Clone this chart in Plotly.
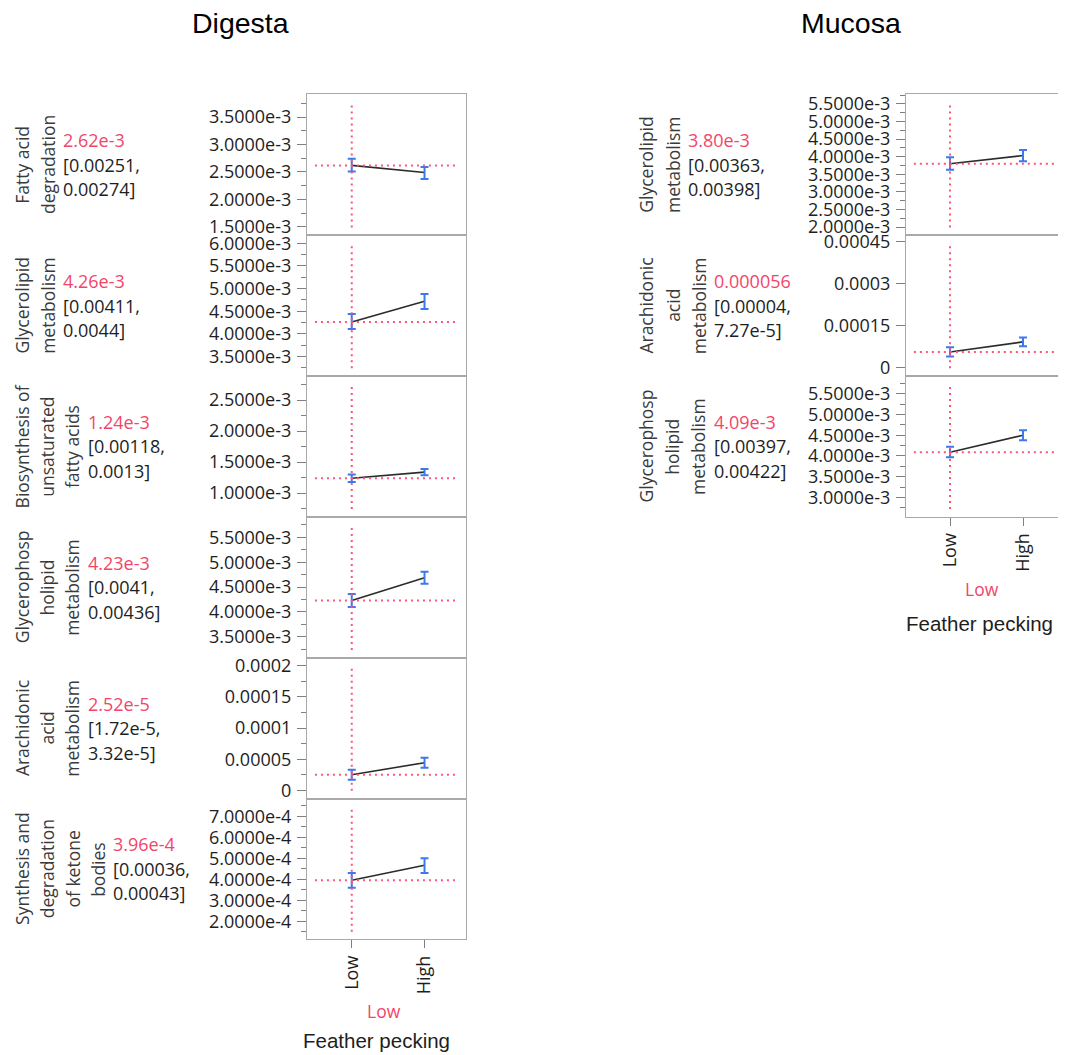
import plotly.graph_objects as go

# page / figure geometry (browser body has an 8px margin)
PAGE_W, PAGE_H = 1066, 1055
OFF = 8
W, H = PAGE_W - OFF, PAGE_H - OFF
YS, YB = 0.9925, 4.7   # empirical vertical correction of the captured page

# ---------------- data ----------------
levels = ["Low", "High"]
current_level = "Low"
x_title = "Feather pecking"
column_titles = ["Digesta", "Mucosa"]

# Digesta
digesta_labels = [
    ["Fatty acid", "degradation"],
    ["Glycerolipid", "metabolism"],
    ["Biosynthesis of", "unsaturated", "fatty acids"],
    ["Glycerophosp", "holipid", "metabolism"],
    ["Arachidonic", "acid", "metabolism"],
    ["Synthesis and", "degradation", "of ketone", "bodies"],
]
digesta_low_mean = [2.62e-3, 4.26e-3, 1.24e-3, 4.23e-3, 2.52e-5, 3.96e-4]
digesta_low_lo = [2.51e-3, 4.11e-3, 1.18e-3, 4.10e-3, 1.72e-5, 3.60e-4]
digesta_low_hi = [2.74e-3, 4.44e-3, 1.30e-3, 4.36e-3, 3.32e-5, 4.30e-4]
digesta_high_mean = [2.49e-3, 4.72e-3, 1.34e-3, 4.69e-3, 4.46e-5, 4.67e-4]
digesta_high_lo = [2.37e-3, 4.55e-3, 1.29e-3, 4.57e-3, 3.66e-5, 4.30e-4]
digesta_high_hi = [2.59e-3, 4.88e-3, 1.39e-3, 4.81e-3, 5.26e-5, 5.00e-4]
digesta_value_text = ["2.62e-3", "4.26e-3", "1.24e-3", "4.23e-3", "2.52e-5", "3.96e-4"]
digesta_ci_text = [
    ["[0.00251,", "0.00274]"],
    ["[0.00411,", "0.0044]"],
    ["[0.00118,", "0.0013]"],
    ["[0.0041,", "0.00436]"],
    ["[1.72e-5,", "3.32e-5]"],
    ["[0.00036,", "0.00043]"],
]
digesta_tickvals = [
    [1.5e-3, 2.0e-3, 2.5e-3, 3.0e-3, 3.5e-3],
    [3.5e-3, 4.0e-3, 4.5e-3, 5.0e-3, 5.5e-3, 6.0e-3],
    [1.0e-3, 1.5e-3, 2.0e-3, 2.5e-3],
    [3.5e-3, 4.0e-3, 4.5e-3, 5.0e-3, 5.5e-3],
    [0, 5e-5, 1e-4, 1.5e-4, 2e-4],
    [2e-4, 3e-4, 4e-4, 5e-4, 6e-4, 7e-4],
]
digesta_ticktext = [
    ["1.5000e-3", "2.0000e-3", "2.5000e-3", "3.0000e-3", "3.5000e-3"],
    ["3.5000e-3", "4.0000e-3", "4.5000e-3", "5.0000e-3", "5.5000e-3", "6.0000e-3"],
    ["1.0000e-3", "1.5000e-3", "2.0000e-3", "2.5000e-3"],
    ["3.5000e-3", "4.0000e-3", "4.5000e-3", "5.0000e-3", "5.5000e-3"],
    ["0", "0.00005", "0.0001", "0.00015", "0.0002"],
    ["2.0000e-4", "3.0000e-4", "4.0000e-4", "5.0000e-4", "6.0000e-4", "7.0000e-4"],
]
digesta_yrange = [
    [1.348e-3, 3.916e-3],
    [3.07e-3, 6.18e-3],
    [0.618e-3, 2.89e-3],
    [3.08e-3, 5.914e-3],
    [-1.28e-5, 2.128e-4],
    [1.14e-4, 7.85e-4],
]
digesta_minor = [0.25e-3, 0.25e-3, 0.25e-3, 0.25e-3, 2.5e-5, 5e-5]

# Mucosa
mucosa_labels = [
    ["Glycerolipid", "metabolism"],
    ["Arachidonic", "acid", "metabolism"],
    ["Glycerophosp", "holipid", "metabolism"],
]
mucosa_low_mean = [3.80e-3, 5.6e-5, 4.09e-3]
mucosa_low_lo = [3.63e-3, 4.0e-5, 3.97e-3]
mucosa_low_hi = [3.98e-3, 7.27e-5, 4.22e-3]
mucosa_high_mean = [4.03e-3, 9.2e-5, 4.50e-3]
mucosa_high_lo = [3.87e-3, 7.6e-5, 4.38e-3]
mucosa_high_hi = [4.19e-3, 1.08e-4, 4.62e-3]
mucosa_value_text = ["3.80e-3", "0.000056", "4.09e-3"]
mucosa_ci_text = [
    ["[0.00363,", "0.00398]"],
    ["[0.00004,", "7.27e-5]"],
    ["[0.00397,", "0.00422]"],
]
mucosa_tickvals = [
    [2.0e-3, 2.5e-3, 3.0e-3, 3.5e-3, 4.0e-3, 4.5e-3, 5.0e-3, 5.5e-3],
    [0, 1.5e-4, 3e-4, 4.5e-4],
    [3.0e-3, 3.5e-3, 4.0e-3, 4.5e-3, 5.0e-3, 5.5e-3],
]
mucosa_ticktext = [
    ["2.0000e-3", "2.5000e-3", "3.0000e-3", "3.5000e-3", "4.0000e-3", "4.5000e-3", "5.0000e-3", "5.5000e-3"],
    ["0", "0.00015", "0.0003", "0.00045"],
    ["3.0000e-3", "3.5000e-3", "4.0000e-3", "4.5000e-3", "5.0000e-3", "5.5000e-3"],
]
mucosa_yrange = [
    [1.77e-3, 5.77e-3],
    [-3.0e-5, 4.74e-4],
    [2.536e-3, 5.925e-3],
]
mucosa_minor = [0.25e-3, None, 0.25e-3]

# ---------------- styles / layout geometry ----------------
RED = "#f2456a"
RED_LINE = "#ff5577"
BLUE = "#3c78ee"
BOX = "#a9a9a9"
TICKC = "#808080"
TXT = "#1e1e1e"
LBL = "#3a3a3a"
FONT = "Open Sans"
TITLE_FONT = "Liberation Sans, Arial"

columns = [
    dict(title=column_titles[0], labels=digesta_labels, lm=digesta_low_mean, ll=digesta_low_lo,
         lh=digesta_low_hi, hm=digesta_high_mean, hl=digesta_high_lo, hh=digesta_high_hi,
         vt=digesta_value_text, ci=digesta_ci_text, tv=digesta_tickvals, tt=digesta_ticktext,
         yr=digesta_yrange, minor=digesta_minor, xr=[-0.615, 1.57],
         bx0=307, bx1=466, top=93, ph=141, lab0=22, lstep=25.3,
         title_x=240.5, low_x=383.5, ft_x=376, xt_gap=72, ft_gap=103),
    dict(title=column_titles[1], labels=mucosa_labels, lm=mucosa_low_mean, ll=mucosa_low_lo,
         lh=mucosa_low_hi, hm=mucosa_high_mean, hl=mucosa_high_lo, hh=mucosa_high_hi,
         vt=mucosa_value_text, ci=mucosa_ci_text, tv=mucosa_tickvals, tt=mucosa_ticktext,
         yr=mucosa_yrange, minor=mucosa_minor, xr=[-0.603, 1.548],
         bx0=906, bx1=1063, top=93, ph=141, lab0=646, lstep=26.3,
         title_x=851, low_x=982, ft_x=979, xt_gap=72, ft_gap=107),
]

fig = go.Figure()
layout = dict(width=W, height=H, margin=dict(l=0, r=0, t=0, b=0), autosize=False,
              paper_bgcolor="white", plot_bgcolor="white", showlegend=False)
annotations = []
shapes = []


def px(x):
    return min(max((x - OFF) / W, 0.0), 1.0)


def py(y, ymax=None):
    page_y = y / YS - YB
    if ymax is not None:
        page_y = min(page_y, ymax)
    return min(max(1 - (page_y - OFF) / H, 0.0), 1.0)


k = 0
for col in columns:
    n = len(col["labels"])
    for i in range(n):
        k += 1
        xa = "x" if k == 1 else f"x{k}"
        ya = "y" if k == 1 else f"y{k}"
        xname = "xaxis" if k == 1 else f"xaxis{k}"
        yname = "yaxis" if k == 1 else f"yaxis{k}"
        t = col["top"] + i * col["ph"]
        b = t + col["ph"]
        last = i == n - 1

        layout[xname] = dict(
            domain=[px(col["bx0"]), px(col["bx1"])], anchor=ya, range=col["xr"],
            showgrid=False, zeroline=False, showline=True, mirror=True,
            linecolor=BOX, linewidth=1.2,
            tickmode="array", tickvals=list(range(len(levels))), ticktext=levels,
            ticks="outside" if last else "", ticklen=8, tickcolor=TICKC, tickwidth=1.2,
            showticklabels=last, tickangle=-90,
            tickfont=dict(family=FONT, size=18, color=TXT),
        )
        ydict = dict(
            domain=[py(b), py(t)], anchor=xa, range=col["yr"][i],
            showgrid=False, zeroline=False, showline=True, mirror=True,
            linecolor=BOX, linewidth=1.2,
            tickmode="array", tickvals=col["tv"][i], ticktext=col["tt"][i],
            ticks="outside", ticklen=9, tickcolor=TICKC, tickwidth=1.2,
            tickfont=dict(family=FONT, size=18, color=TXT), ticklabelstandoff=2,
        )
        if col["minor"][i] is not None:
            ydict["minor"] = dict(dtick=col["minor"][i], tick0=0, ticks="outside",
                                  ticklen=5, tickcolor=TICKC, tickwidth=1.2, showgrid=False)
        layout[yname] = ydict

        lo_idx = levels.index(current_level)
        means = [col["lm"][i], col["hm"][i]]
        lows = [col["ll"][i], col["hl"][i]]
        highs = [col["lh"][i], col["hh"][i]]

        # reference lines at current setting
        shapes.append(dict(type="line", xref=f"{xa} domain", yref=ya, x0=0.05, x1=0.95,
                           y0=col["lm"][i], y1=col["lm"][i],
                           line=dict(color=RED_LINE, width=2, dash="2px,4px")))
        shapes.append(dict(type="line", xref=xa, yref=f"{ya} domain", x0=lo_idx, x1=lo_idx,
                           y0=0.055, y1=0.945,
                           line=dict(color=RED_LINE, width=2, dash="2px,4px")))

        fig.add_trace(go.Scatter(
            x=list(range(len(levels))), y=means, mode="lines", xaxis=xa, yaxis=ya,
            line=dict(color="#2b2b2b", width=1.6), hoverinfo="skip",
        ))
        fig.add_trace(go.Scatter(
            x=list(range(len(levels))), y=means, mode="markers", xaxis=xa, yaxis=ya,
            marker=dict(size=1, color="rgba(0,0,0,0)"),
            error_y=dict(type="data", symmetric=False,
                         array=[h - m for h, m in zip(highs, means)],
                         arrayminus=[m - l for m, l in zip(means, lows)],
                         color=BLUE, thickness=2, width=4),
            hoverinfo="skip",
        ))

        # rotated response label
        cy = (t + b) / 2
        nl = len(col["labels"][i])
        for j, line in enumerate(col["labels"][i]):
            annotations.append(dict(
                text=line, x=px(col["lab0"] + j * col["lstep"]), y=py(cy),
                xref="paper", yref="paper", xanchor="center", yanchor="middle",
                textangle=-90, showarrow=False,
                font=dict(family=FONT, size=17.5, color=LBL),
            ))
        tx = col["lab0"] + (nl - 1) * col["lstep"] + 13.5
        annotations.append(dict(
            text=col["vt"][i], x=px(tx), y=py(cy - 24.5), xref="paper", yref="paper",
            xanchor="left", yanchor="middle", showarrow=False,
            font=dict(family=FONT, size=18, color=RED),
        ))
        for j, line in enumerate(col["ci"][i]):
            annotations.append(dict(
                text=line, x=px(tx), y=py(cy + j * 24.5), xref="paper", yref="paper",
                xanchor="left", yanchor="middle", showarrow=False,
                font=dict(family=FONT, size=18, color=TXT),
            ))

    bottom = col["top"] + n * col["ph"]
    # column title
    annotations.append(dict(
        text=col["title"], x=px(col["title_x"]), y=py(22), xref="paper", yref="paper",
        xanchor="center", yanchor="middle", showarrow=False,
        font=dict(family=TITLE_FONT, size=28.5, color="black"),
    ))
    annotations.append(dict(
        text=current_level, x=px(col["low_x"]), y=py(bottom + col["xt_gap"]),
        xref="paper", yref="paper", xanchor="center", yanchor="middle", showarrow=False,
        font=dict(family=FONT, size=17.5, color=RED),
    ))
    annotations.append(dict(
        text=x_title, x=px(col["ft_x"]), y=py(bottom + col["ft_gap"], ymax=H + OFF - 12),
        xref="paper", yref="paper", xanchor="center", yanchor="middle", showarrow=False,
        font=dict(family=TITLE_FONT, size=20.5, color=TXT),
    ))

layout["annotations"] = annotations
layout["shapes"] = shapes
fig.update_layout(**layout)
fig.write_html("out.html")
